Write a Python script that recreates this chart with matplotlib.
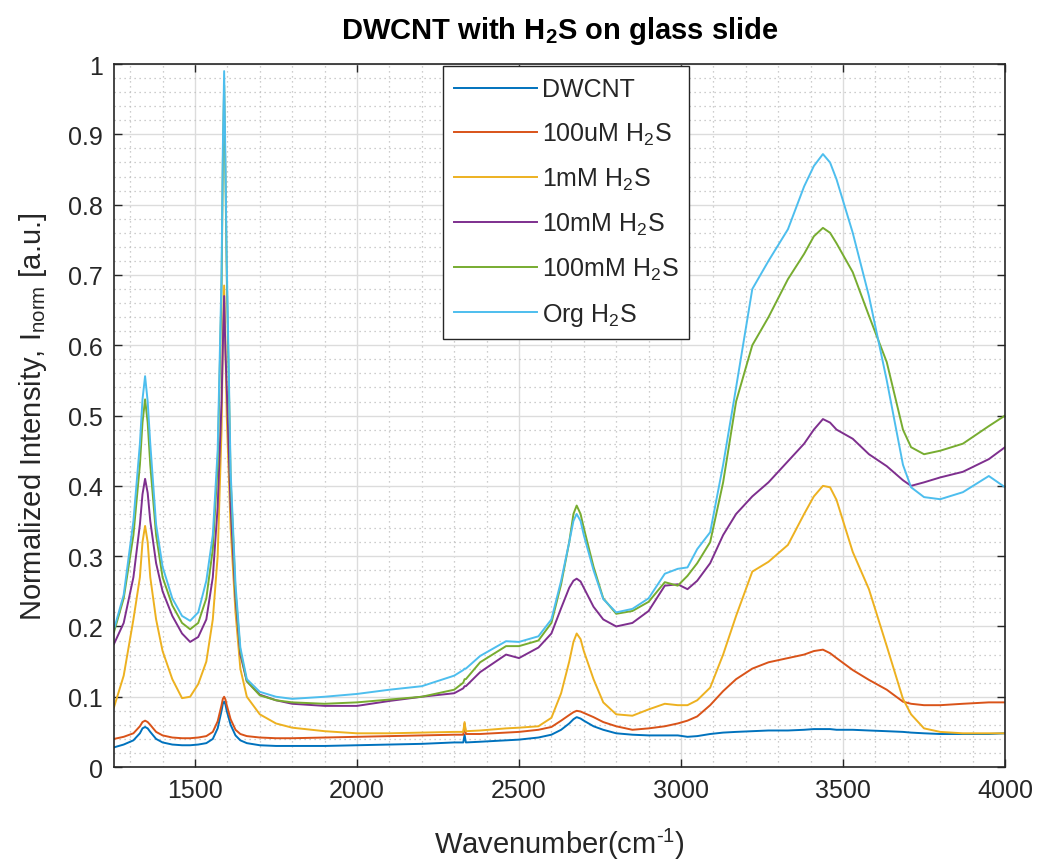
import matplotlib
matplotlib.use("Agg")
import matplotlib.pyplot as plt
from matplotlib.ticker import MultipleLocator, FuncFormatter

# ---------------- data ----------------
wavenumber = [1250, 1280, 1310, 1330, 1338, 1346, 1354, 1362, 1380, 1400, 1430, 1460,
              1485, 1510, 1535, 1555, 1570, 1582, 1586, 1590, 1594, 1598, 1610, 1625,
              1640, 1660, 1700, 1750, 1800, 1900, 2000, 2100, 2200, 2300,
              2328, 2332, 2336, 2380, 2460, 2500, 2560, 2600, 2630, 2655, 2668,
              2678, 2690, 2700, 2730, 2760, 2800, 2850, 2900, 2950, 2990, 3020,
              3050, 3090, 3130, 3170, 3220, 3270, 3330, 3380, 3410, 3438, 3460, 3480,
              3530, 3580, 3635, 3685, 3710, 3750, 3800, 3870, 3950, 4000]

dwcnt = [0.028, 0.032, 0.038, 0.048, 0.055, 0.057, 0.055, 0.050, 0.040, 0.035, 0.032, 0.031,
         0.031, 0.032, 0.034, 0.040, 0.055, 0.080, 0.090, 0.093, 0.089, 0.080, 0.060, 0.045,
         0.038, 0.034, 0.031, 0.030, 0.030, 0.030, 0.031, 0.032, 0.033, 0.035,
         0.035, 0.046, 0.035, 0.036, 0.038, 0.039, 0.042, 0.046, 0.053, 0.062, 0.068,
         0.071, 0.069, 0.066, 0.058, 0.053, 0.048, 0.046, 0.045, 0.045, 0.045, 0.043,
         0.044, 0.047, 0.049, 0.050, 0.051, 0.052, 0.052, 0.053, 0.054, 0.054, 0.054, 0.053,
         0.053, 0.052, 0.051, 0.050, 0.049, 0.048, 0.047, 0.047, 0.047, 0.048]

h2s_100uM = [0.040, 0.043, 0.048, 0.058, 0.064, 0.066, 0.064, 0.060, 0.050, 0.045, 0.042, 0.041,
             0.041, 0.042, 0.044, 0.050, 0.065, 0.088, 0.097, 0.100, 0.096, 0.088, 0.068, 0.053,
             0.047, 0.044, 0.042, 0.041, 0.041, 0.042, 0.043, 0.044, 0.045, 0.046,
             0.046, 0.062, 0.047, 0.047, 0.049, 0.050, 0.053, 0.057, 0.066, 0.074, 0.078,
             0.080, 0.079, 0.077, 0.071, 0.064, 0.058, 0.053, 0.055, 0.058, 0.062, 0.066,
             0.072, 0.088, 0.108, 0.125, 0.140, 0.149, 0.155, 0.160, 0.165, 0.167, 0.162, 0.155,
             0.138, 0.124, 0.110, 0.093, 0.090, 0.088, 0.088, 0.090, 0.092, 0.092]

h2s_1mM = [0.085, 0.130, 0.210, 0.270, 0.320, 0.343, 0.320, 0.270, 0.210, 0.165, 0.125, 0.098,
           0.100, 0.118, 0.150, 0.210, 0.300, 0.480, 0.610, 0.685, 0.600, 0.500, 0.340, 0.220,
           0.140, 0.100, 0.075, 0.062, 0.056, 0.051, 0.048, 0.048, 0.049, 0.050,
           0.050, 0.064, 0.051, 0.052, 0.055, 0.056, 0.058, 0.070, 0.105, 0.150, 0.178,
           0.190, 0.182, 0.165, 0.125, 0.092, 0.075, 0.073, 0.082, 0.090, 0.088, 0.088,
           0.095, 0.113, 0.160, 0.215, 0.278, 0.292, 0.316, 0.360, 0.385, 0.400, 0.398, 0.380,
           0.306, 0.253, 0.172, 0.097, 0.075, 0.055, 0.050, 0.048, 0.048, 0.048]

h2s_10mM = [0.175, 0.205, 0.270, 0.345, 0.388, 0.410, 0.390, 0.350, 0.290, 0.250, 0.215, 0.190,
            0.178, 0.185, 0.210, 0.270, 0.370, 0.520, 0.600, 0.670, 0.590, 0.540, 0.370, 0.240,
            0.160, 0.122, 0.103, 0.095, 0.090, 0.087, 0.087, 0.094, 0.100, 0.105,
            0.112, 0.115, 0.115, 0.135, 0.160, 0.155, 0.170, 0.190, 0.226, 0.255, 0.265,
            0.268, 0.264, 0.255, 0.228, 0.210, 0.200, 0.205, 0.222, 0.258, 0.260, 0.253,
            0.265, 0.290, 0.330, 0.360, 0.385, 0.405, 0.435, 0.460, 0.480, 0.495, 0.490, 0.480,
            0.467, 0.445, 0.428, 0.408, 0.400, 0.405, 0.412, 0.420, 0.438, 0.455]

h2s_100mM = [0.192, 0.240, 0.330, 0.430, 0.490, 0.523, 0.490, 0.430, 0.330, 0.270, 0.230, 0.205,
             0.196, 0.205, 0.240, 0.310, 0.430, 0.680, 0.860, 0.970, 0.840, 0.700, 0.410, 0.250,
             0.165, 0.122, 0.102, 0.095, 0.092, 0.090, 0.092, 0.096, 0.100, 0.110,
             0.120, 0.125, 0.125, 0.149, 0.172, 0.172, 0.180, 0.205, 0.260, 0.320, 0.360,
             0.372, 0.360, 0.340, 0.285, 0.240, 0.218, 0.222, 0.235, 0.263, 0.258, 0.272,
             0.290, 0.320, 0.405, 0.520, 0.600, 0.640, 0.694, 0.730, 0.755, 0.767, 0.760, 0.745,
             0.704, 0.642, 0.576, 0.480, 0.455, 0.445, 0.450, 0.460, 0.485, 0.500]

h2s_org = [0.196, 0.245, 0.350, 0.460, 0.523, 0.556, 0.520, 0.460, 0.345, 0.285, 0.240, 0.215,
           0.208, 0.220, 0.265, 0.330, 0.450, 0.700, 0.880, 0.990, 0.860, 0.720, 0.420, 0.260,
           0.170, 0.125, 0.107, 0.100, 0.097, 0.100, 0.104, 0.110, 0.115, 0.130,
           0.138, 0.140, 0.140, 0.158, 0.179, 0.178, 0.186, 0.210, 0.265, 0.320, 0.350,
           0.360, 0.350, 0.330, 0.280, 0.239, 0.220, 0.225, 0.240, 0.275, 0.282, 0.284,
           0.310, 0.334, 0.430, 0.540, 0.680, 0.720, 0.765, 0.826, 0.855, 0.872, 0.860, 0.836,
           0.760, 0.670, 0.550, 0.430, 0.398, 0.384, 0.381, 0.391, 0.414, 0.398]

series = [dwcnt, h2s_100uM, h2s_1mM, h2s_10mM, h2s_100mM, h2s_org]
labels = ['DWCNT', '100uM H$_2$S', '1mM H$_2$S', '10mM H$_2$S',
          '100mM H$_2$S', 'Org H$_2$S']
colors = ['#0072BD', '#D95319', '#EDB120', '#7E2F8E', '#77AC30', '#4DBEEE']

x_ticks = [1500, 2000, 2500, 3000, 3500, 4000]
y_ticks = [0, 0.1, 0.2, 0.3, 0.4, 0.5, 0.6, 0.7, 0.8, 0.9, 1.0]

# ---------------- style ----------------
plt.rcParams['font.family'] = ['Liberation Sans', 'DejaVu Sans']
plt.rcParams['mathtext.fontset'] = 'custom'
plt.rcParams['mathtext.rm'] = 'Liberation Sans'
plt.rcParams['mathtext.it'] = 'Liberation Sans'
plt.rcParams['mathtext.bf'] = 'Liberation Sans:bold'
plt.rcParams['mathtext.default'] = 'regular'

axis_col = '#262626'

fig = plt.figure(figsize=(10.39, 8.62), dpi=100)
ax = fig.add_axes([0.1097, 0.109, 0.8576, 0.8155])

for y, lab, c in zip(series, labels, colors):
    ax.plot(wavenumber, y, color=c, lw=1.4, label=lab)

ax.set_xlim(1250, 4000)
ax.set_ylim(0, 1)
ax.set_xticks(x_ticks)
ax.set_yticks(y_ticks)
ax.yaxis.set_major_formatter(FuncFormatter(lambda v, p: '%g' % v))
ax.xaxis.set_minor_locator(MultipleLocator(100))
ax.yaxis.set_minor_locator(MultipleLocator(0.02))

ax.grid(True, which='major', color='#dcdcdc', lw=1.0, ls='-')
ax.grid(True, which='minor', color='#bdbdbd', lw=0.9, ls=(0, (1, 3)))
ax.set_axisbelow(True)

ax.tick_params(which='major', direction='in', length=6, width=1.0,
               top=True, right=True, labelsize=18, colors=axis_col, pad=8)
ax.tick_params(which='minor', length=0)
for s in ax.spines.values():
    s.set_color(axis_col)
    s.set_linewidth(1.2)

ax.set_title('DWCNT with H$_2$S on glass slide', fontsize=21,
             fontweight='bold', pad=19)
ax.set_xlabel(r'Wavenumber(cm$^{\text{-1}}$)', fontsize=21, color=axis_col,
              labelpad=17)
ax.set_ylabel('Normalized Intensity, I$_{norm}$ [a.u.]', fontsize=21,
              color=axis_col, labelpad=14)

leg = ax.legend(loc='upper left', bbox_to_anchor=(0.369, 0.997), fontsize=18,
                frameon=True, fancybox=False, framealpha=1, edgecolor='#262626',
                handlelength=3.3, handletextpad=0.2, labelspacing=0.76,
                borderpad=0.45, borderaxespad=0)
leg.get_frame().set_linewidth(1.0)
for t in leg.get_texts():
    t.set_color(axis_col)

fig.savefig('out.png', dpi=100)
